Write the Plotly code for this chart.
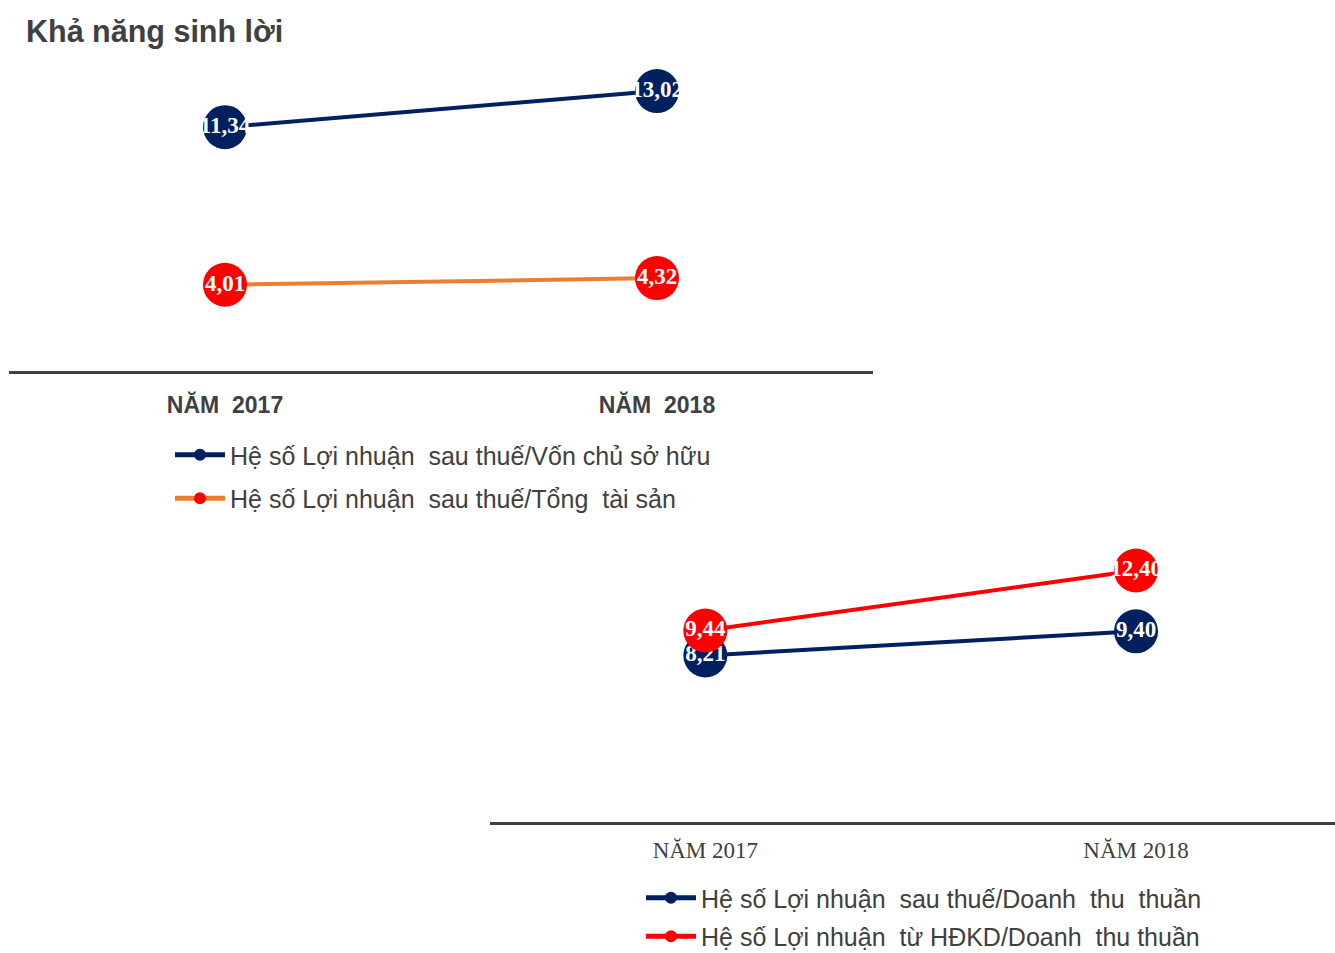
import plotly.graph_objects as go

# ---- data ----
years1 = ["NĂM  2017", "NĂM  2018"]
years2 = ["NĂM 2017", "NĂM 2018"]
roe = [11.34, 13.02]          # LNST / Vốn chủ sở hữu
roa = [4.01, 4.32]            # LNST / Tổng tài sản
ros = [8.21, 9.40]            # LNST / Doanh thu thuần
opm = [9.44, 12.40]           # LN từ HĐKD / Doanh thu thuần

names1 = ["Hệ số Lợi nhuận  sau thuế/Vốn chủ sở hữu", "Hệ số Lợi nhuận  sau thuế/Tổng  tài sản"]
names2 = ["Hệ số Lợi nhuận  sau thuế/Doanh  thu  thuần", "Hệ số Lợi nhuận  từ HĐKD/Doanh  thu thuần"]

NAVY = "#002060"
ORANGE = "#ED7D31"
RED = "#FF0000"
GREY = "#404040"

W, H = 1335, 953


def lab(vals):
    return [f"{v:.2f}".replace(".", ",") for v in vals]


def px_to_y(p):
    return 1 - p / H


fig = go.Figure()

label_font = dict(family="Liberation Serif", size=23, color="white", weight="bold")

fig.add_trace(go.Scatter(x=years1, y=roe, name=names1[0], mode="lines+markers+text",
                         line=dict(color=NAVY, width=4), marker=dict(color=NAVY, size=44),
                         text=lab(roe), textposition="middle center", textfont=label_font,
                         xaxis="x", yaxis="y", legend="legend", legendgroup="a", cliponaxis=False))
fig.add_trace(go.Scatter(x=years1, y=roa, name=names1[1], mode="lines+markers+text",
                         line=dict(color=ORANGE, width=4), marker=dict(color=RED, size=44),
                         text=lab(roa), textposition="middle center", textfont=label_font,
                         xaxis="x", yaxis="y", legend="legend", legendgroup="b", cliponaxis=False))
fig.add_trace(go.Scatter(x=years2, y=ros, name=names2[0], mode="lines+markers+text",
                         line=dict(color=NAVY, width=4), marker=dict(color=NAVY, size=44),
                         text=lab(ros), textposition="middle center", textfont=label_font,
                         xaxis="x2", yaxis="y2", legend="legend2", legendgroup="c", cliponaxis=False))
fig.add_trace(go.Scatter(x=years2, y=opm, name=names2[1], mode="lines+markers+text",
                         line=dict(color=RED, width=4), marker=dict(color=RED, size=44),
                         text=lab(opm), textposition="middle center", textfont=label_font,
                         xaxis="x2", yaxis="y2", legend="legend2", legendgroup="d", cliponaxis=False))

legend_common = dict(orientation="v", xanchor="left", yanchor="top", bgcolor="rgba(0,0,0,0)",
                     font=dict(family="Liberation Sans", size=25, color=GREY),
                     itemsizing="constant", itemwidth=50,
                     traceorder="grouped")

fig.update_layout(
    width=W, height=H,
    margin=dict(l=0, r=0, t=0, b=0, autoexpand=False),
    paper_bgcolor="white", plot_bgcolor="white",
    showlegend=True,
    title=dict(text="<b>Khả năng sinh lời</b>", x=26 / W, xanchor="left", y=px_to_y(31), yanchor="middle",
               font=dict(family="Liberation Sans", size=30.5, color=GREY)),
    xaxis=dict(domain=[9 / W, 873 / W], range=[-0.5, 1.5], type="category",
               showline=True, linecolor=GREY, linewidth=3, showgrid=False, zeroline=False,
               ticks="", ticklabelstandoff=11,
               tickfont=dict(family="Liberation Sans", size=23, color=GREY, weight="bold"),
               anchor="y", fixedrange=True),
    yaxis=dict(domain=[px_to_y(371), px_to_y(70)], range=[0, 14], visible=False,
               showgrid=False, zeroline=False, anchor="x"),
    xaxis2=dict(domain=[490 / W, 1.0], range=[-0.5, 1.462], type="category",
                showline=True, linecolor=GREY, linewidth=3, showgrid=False, zeroline=False,
                ticks="", ticklabelstandoff=5,
                tickfont=dict(family="Liberation Serif", size=23, color=GREY),
                anchor="y2"),
    yaxis2=dict(domain=[px_to_y(822), px_to_y(538)], range=[0, 14], visible=False,
                showgrid=False, zeroline=False, anchor="x2"),
    legend=dict(x=170 / W, y=px_to_y(432), tracegroupgap=8, **legend_common),
    legend2=dict(x=641 / W, y=px_to_y(875), tracegroupgap=3, **legend_common),
)

fig.write_html("out.html")
